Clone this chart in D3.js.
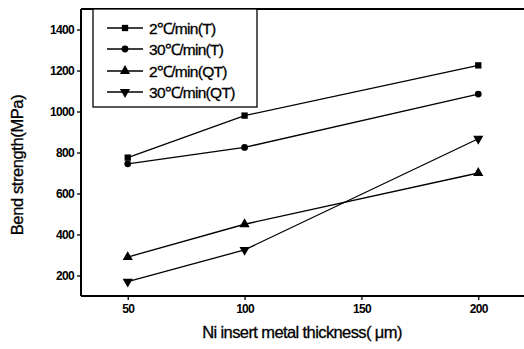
<!DOCTYPE html>
<html><head><meta charset="utf-8">
<script src="https://cdn.jsdelivr.net/npm/d3@7"></script>
<style>
body{margin:0;background:#fff;}
text{font-family:"Liberation Sans",Arial,sans-serif;fill:#000;}
</style></head>
<body><svg id="c" width="524" height="349"></svg>
<script>
const thickness = [50, 100, 200];
const seriesNames = ["2℃/min(T)", "30℃/min(T)", "2℃/min(QT)", "30℃/min(QT)"];
const seriesSymbols = ["square", "circle", "triangleUp", "triangleDown"];
const s2T = [775, 980, 1225];
const s30T = [745, 825, 1085];
const s2QT = [290, 450, 700];
const s30QT = [170, 325, 867];
const yTicks = [200, 400, 600, 800, 1000, 1200, 1400];
const xTicks = [50, 100, 150, 200];
const allSeries = [s2T, s30T, s2QT, s30QT];

const svg = d3.select("#c");
const L = 81, R = 525, T = 9, B = 296;
const x = d3.scaleLinear().domain([30, 220]).range([L, R]);
const y = d3.scaleLinear().domain([100, 1500]).range([B, T]);

const yAx = svg.append("g").attr("transform", `translate(${L},0)`)
  .call(d3.axisLeft(y).tickValues(yTicks).tickSize(4).tickPadding(3).tickFormat(d3.format("d")));
const xAx = svg.append("g").attr("transform", `translate(0,${B})`)
  .call(d3.axisBottom(x).tickValues(xTicks).tickSize(4).tickPadding(4).tickFormat(d3.format("d")));
[yAx, xAx].forEach(a => {
  a.select(".domain").attr("stroke", "#000").attr("stroke-width", 2);
  a.selectAll(".tick line").attr("stroke", "#000").attr("stroke-width", 1.3);
  a.selectAll(".tick text").style("font-size", "12px").style("font-weight", "bold")
    .style("letter-spacing", "-0.7px").attr("fill", "#000");
});
xAx.select(".domain").attr("d", `M${L},0H${R}`);
yAx.select(".domain").attr("d", `M0,${B}V${T}`);
svg.append("line").attr("x1", L).attr("x2", 524).attr("y1", T).attr("y2", T)
  .attr("stroke", "#000").attr("stroke-width", 2);

const sym = {
  square: d3.symbol(d3.symbolSquare, 40),
  circle: d3.symbol(d3.symbolCircle, 36),
  triangleUp: d3.symbol(d3.symbolTriangle, 45),
  triangleDown: d3.symbol(d3.symbolTriangle, 45)
};
const line = d3.line().x((d, i) => x(thickness[i])).y(d => y(d));

allSeries.forEach((vals, k) => {
  svg.append("path").attr("d", line(vals)).attr("fill", "none")
    .attr("stroke", "#000").attr("stroke-width", 1.3);
  vals.forEach((v, i) => {
    svg.append("path").attr("d", sym[seriesSymbols[k]]())
      .attr("transform", `translate(${x(thickness[i])},${y(v)})` + (seriesSymbols[k] === "triangleDown" ? " rotate(180)" : ""))
      .attr("fill", "#000");
  });
});

const lg = svg.append("g");
lg.append("rect").attr("x", 93).attr("y", 9).attr("width", 164).attr("height", 98)
  .attr("fill", "#fff").attr("stroke", "#000").attr("stroke-width", 1.3);
const rowY = [28, 49, 71, 92];
seriesNames.forEach((n, k) => {
  lg.append("line").attr("x1", 107).attr("x2", 143).attr("y1", rowY[k]).attr("y2", rowY[k])
    .attr("stroke", "#000").attr("stroke-width", 1.3);
  lg.append("path").attr("d", sym[seriesSymbols[k]]())
    .attr("transform", `translate(125,${rowY[k]})` + (seriesSymbols[k] === "triangleDown" ? " rotate(180)" : ""))
    .attr("fill", "#000");
  lg.append("text").attr("x", 149).attr("y", rowY[k] + 5.5).text(n)
    .style("font-size", "15.5px").style("letter-spacing", "-0.7px")
    .attr("stroke", "#000").attr("stroke-width", 0.3);
});

svg.append("text").attr("x", 302).attr("y", 338).attr("text-anchor", "middle")
  .style("font-size", "16.5px").style("letter-spacing", "-0.6px")
  .attr("stroke", "#000").attr("stroke-width", 0.3)
  .text("Ni insert metal thickness( μm)");
svg.append("text").attr("transform", "translate(23,165) rotate(-90)").attr("text-anchor", "middle")
  .style("font-size", "16.5px").style("letter-spacing", "-0.4px")
  .attr("stroke", "#000").attr("stroke-width", 0.3)
  .text("Bend strength(MPa)");
</script></body></html>
